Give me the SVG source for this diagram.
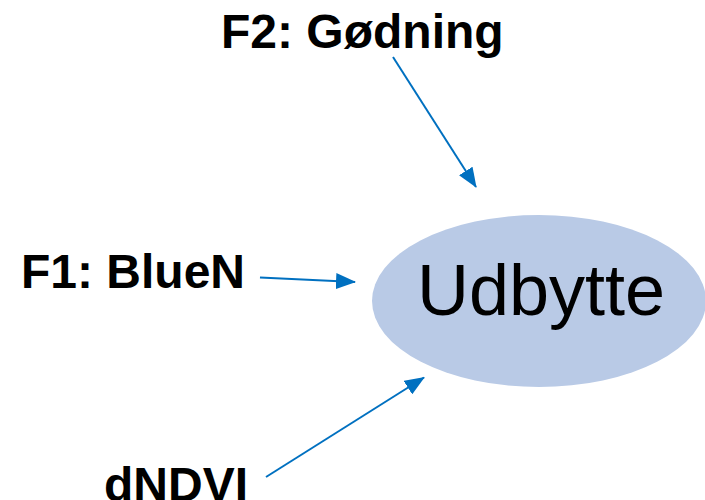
<svg xmlns="http://www.w3.org/2000/svg" width="705" height="500" viewBox="0 0 705 500">
<defs>
<style>
.lbl{font-family:"Liberation Sans",Arial,sans-serif;font-weight:bold;font-size:48px;fill:#000}
.main{font-family:"Liberation Sans",Arial,sans-serif;font-size:72px;fill:#000}
.conn{stroke:#0070C0;stroke-width:2;fill:none;marker-end:url(#ah)}
</style>
<marker id="ah" markerUnits="userSpaceOnUse" markerWidth="20" markerHeight="16" viewBox="0 0 20 16" refX="19" refY="8" orient="auto">
<path d="M0,0 L20,8 L0,16 z" fill="#0070C0"/>
</marker>
</defs>
<rect width="705" height="500" fill="#fff"/>
<g id="udbytte">
<ellipse cx="539" cy="301" rx="167" ry="86" fill="#B9CAE6"/>
<text class="main" x="541" y="315" text-anchor="middle">Udbytte</text>
</g>
<g id="f2">
<text class="lbl" x="221" y="48">F2: Gødning</text>
</g>
<g id="f1">
<text class="lbl" x="21" y="288">F1: BlueN</text>
</g>
<g id="dndvi">
<text class="lbl" x="104" y="501">dNDVI</text>
</g>
<g id="connectors">
<line class="conn" x1="393" y1="57" x2="476" y2="187"/>
<line class="conn" x1="260" y1="277.5" x2="355" y2="282"/>
<line class="conn" x1="266" y1="477" x2="424" y2="377.5"/>
</g>
</svg>
